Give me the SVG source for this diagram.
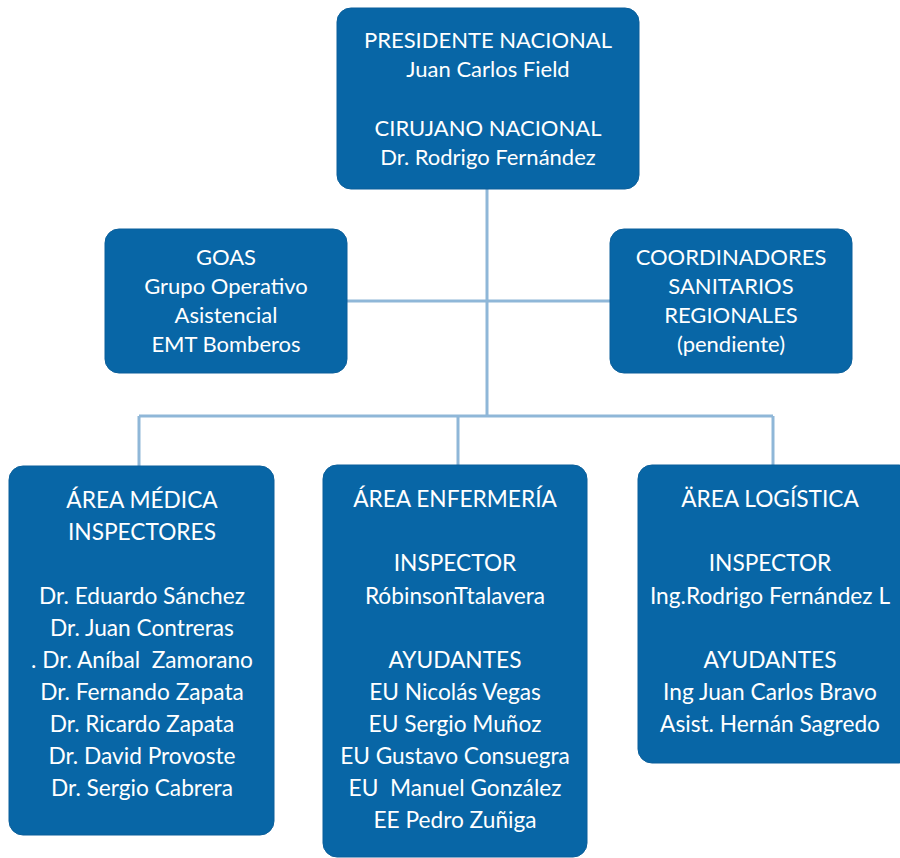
<svg xmlns="http://www.w3.org/2000/svg" width="900" height="858" viewBox="0 0 900 858">
<style>
.box{fill:#0866a6;stroke:#0a5f9b;stroke-width:1}
.t{font-family:Lato,"Liberation Sans",sans-serif;fill:#ffffff;text-anchor:middle;font-size:22px}
.b{font-size:22.7px}
.ln{stroke:#8fb7d8;stroke-width:3;fill:none}
</style>
<rect width="900" height="858" fill="#ffffff"/>
<g id="connectors">
<path class="ln" d="M487 189 V416 M347 301 H610 M139 416 H773 M139 416 V466 M458 416 V465 M773 416 V465"/>
</g>
<g id="presidente">
<rect class="box" x="337" y="8" width="302" height="181" rx="14"/>
<text class="t" x="488" y="48">PRESIDENTE NACIONAL</text>
<text class="t" x="488" y="77">Juan Carlos Field</text>
<text class="t" x="488" y="136">CIRUJANO NACIONAL</text>
<text class="t" x="488" y="165">Dr. Rodrigo Fernández</text>
</g>
<g id="goas">
<rect class="box" x="105" y="229" width="242" height="144" rx="14"/>
<text class="t" x="226" y="265">GOAS</text>
<text class="t" x="226" y="294">Grupo Operativo</text>
<text class="t" x="226" y="323">Asistencial</text>
<text class="t" x="226" y="352">EMT Bomberos</text>
</g>
<g id="coordinadores">
<rect class="box" x="610" y="229" width="242" height="144" rx="14"/>
<text class="t" x="731" y="265">COORDINADORES</text>
<text class="t" x="731" y="294">SANITARIOS</text>
<text class="t" x="731" y="323">REGIONALES</text>
<text class="t" x="731" y="352">(pendiente)</text>
</g>
<g id="area-medica">
<rect class="box" x="9" y="466" width="265" height="369" rx="14"/>
<text class="t b" x="142" y="508">ÁREA MÉDICA</text>
<text class="t b" x="142" y="540">INSPECTORES</text>
<text class="t b" x="142" y="604">Dr. Eduardo Sánchez</text>
<text class="t b" x="142" y="636">Dr. Juan Contreras</text>
<text class="t b" x="142" y="668" xml:space="preserve">. Dr. Aníbal  Zamorano</text>
<text class="t b" x="142" y="700">Dr. Fernando Zapata</text>
<text class="t b" x="142" y="732">Dr. Ricardo Zapata</text>
<text class="t b" x="142" y="764">Dr. David Provoste</text>
<text class="t b" x="142" y="796">Dr. Sergio Cabrera</text>
</g>
<g id="area-enfermeria">
<rect class="box" x="323" y="465" width="264" height="392" rx="14"/>
<text class="t b" x="455" y="507">ÁREA ENFERMERÍA</text>
<text class="t b" x="455" y="571">INSPECTOR</text>
<text class="t b" x="455" y="604">RóbinsonTtalavera</text>
<text class="t b" x="455" y="668">AYUDANTES</text>
<text class="t b" x="455" y="700">EU Nicolás Vegas</text>
<text class="t b" x="455" y="732">EU Sergio Muñoz</text>
<text class="t b" x="455" y="764">EU Gustavo Consuegra</text>
<text class="t b" x="455" y="796" xml:space="preserve">EU  Manuel González</text>
<text class="t b" x="455" y="828">EE Pedro Zuñiga</text>
</g>
<g id="area-logistica">
<rect class="box" x="638" y="465" width="275" height="298" rx="14"/>
<text class="t b" x="770" y="507">ÄREA LOGÍSTICA</text>
<text class="t b" x="770" y="571">INSPECTOR</text>
<text class="t b" x="770" y="604">Ing.Rodrigo Fernández L</text>
<text class="t b" x="770" y="668">AYUDANTES</text>
<text class="t b" x="770" y="700">Ing Juan Carlos Bravo</text>
<text class="t b" x="770" y="732">Asist. Hernán Sagredo</text>
</g>
</svg>
